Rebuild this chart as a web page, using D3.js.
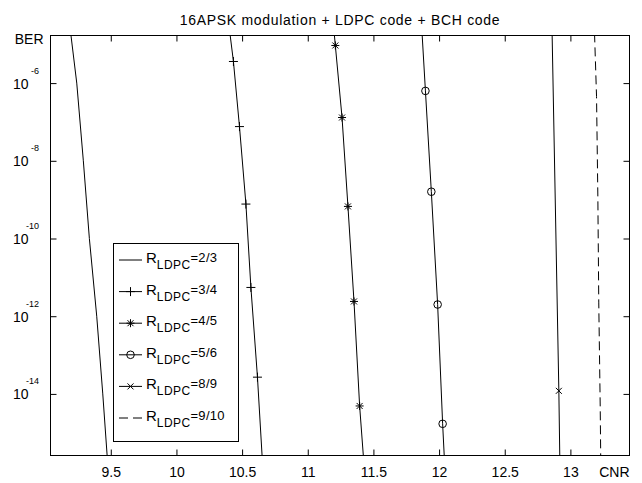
<!DOCTYPE html>
<html><head><meta charset="utf-8">
<script src="https://cdn.jsdelivr.net/npm/d3@7"></script>
<style>
body{margin:0;background:#fff}
svg{display:block}
text{font-family:"Liberation Sans",Arial,Helvetica,sans-serif;fill:#000}
</style>
</head><body>
<svg id="c" width="642" height="483"></svg>
<script>
// ---------- data ----------
const titleText = "16APSK modulation + LDPC code + BCH code";
const xLabel = "CNR";
const yLabel = "BER";
const xTicks = [9.5, 10, 10.5, 11, 11.5, 12, 12.5, 13];
const xTickLabels = ["9.5", "10", "10.5", "11", "11.5", "12", "12.5", "13"];
const yTicks = [1e-6, 1e-8, 1e-10, 1e-12, 1e-14];
const yTickExponents = ["-6", "-8", "-10", "-12", "-14"];
const xLimits = [9.041, 13.45];
const yLimits = [2.6e-16, 1.68e-5];

const seriesNames = ["2/3", "3/4", "4/5", "5/6", "8/9", "9/10"];
const cnr23 = [9.187, 9.241, 9.291, 9.337, 9.393, 9.439, 9.481];
const ber23 = [3.2e-5, 1e-6, 1e-8, 1e-10, 1e-12, 1e-14, 1e-16];
const cnr34 = [10.377, 10.434, 10.480, 10.529, 10.567, 10.617, 10.668];
const ber34 = [1.26e-4, 3.6e-6, 7.6e-8, 7.7e-10, 5.5e-12, 2.7e-14, 3.2e-17];
const cnr45 = [11.179, 11.210, 11.261, 11.306, 11.352, 11.395, 11.443];
const ber45 = [1.26e-4, 9.3e-6, 1.3e-7, 6.7e-10, 2.4e-12, 4.9e-15, 3.2e-17];
const cnr56 = [11.851, 11.896, 11.941, 11.989, 12.027, 12.066];
const ber56 = [2.5e-4, 6.3e-7, 1.6e-9, 2.0e-12, 1.7e-15, 4e-18];
const cnr89 = [12.851, 12.912, 12.925];
const ber89 = [1e-3, 1.2e-14, 1e-17];
const cnr910 = [13.177, 13.199, 13.209, 13.216, 13.227, 13.232];
const ber910 = [1e-4, 4.5e-7, 1.2e-9, 2.2e-12, 4.7e-15, 1e-16];

// ---------- layout / style ----------
const W = 642, H = 483;
const L = 50.5, R = 629.5, T = 35.5, B = 455.5;
const FONT = 14;
const series = [
  {name: seriesNames[0], cnr: cnr23, ber: ber23, marker: null, dash: null},
  {name: seriesNames[1], cnr: cnr34, ber: ber34, marker: "plus", dash: null},
  {name: seriesNames[2], cnr: cnr45, ber: ber45, marker: "star", dash: null},
  {name: seriesNames[3], cnr: cnr56, ber: ber56, marker: "circle", dash: null},
  {name: seriesNames[4], cnr: cnr89, ber: ber89, marker: "x", dash: null},
  {name: seriesNames[5], cnr: cnr910, ber: ber910, marker: null, dash: "9,5"}
];

const svg = d3.select("#c");
const x = d3.scaleLinear().domain(xLimits).range([L, R]);
const y = d3.scaleLog().domain(yLimits).range([B, T]);

// title
svg.append("text").attr("x", (L + R) / 2).attr("y", 25)
  .attr("text-anchor", "middle").attr("font-size", FONT)
  .attr("letter-spacing", 0.7).text(titleText);

// clip
svg.append("defs").append("clipPath").attr("id", "clip")
  .append("rect").attr("x", L).attr("y", T).attr("width", R - L).attr("height", B - T);

// axes (inward ticks)
const tk = 6;
const gB = svg.append("g").attr("transform", `translate(0,${B})`)
  .call(d3.axisBottom(x).tickValues(xTicks).tickSize(-tk).tickPadding(0)
    .tickFormat((d, i) => xTickLabels[i]));
gB.selectAll("text").attr("y", 21.5).attr("dy", null).attr("font-size", FONT);
const gT = svg.append("g").attr("transform", `translate(0,${T})`)
  .call(d3.axisTop(x).tickValues(xTicks).tickSize(-tk).tickFormat(""));
const gL = svg.append("g").attr("transform", `translate(${L},0)`)
  .call(d3.axisLeft(y).tickValues(yTicks).tickSize(-tk).tickFormat(""));
const gR = svg.append("g").attr("transform", `translate(${R},0)`)
  .call(d3.axisRight(y).tickValues(yTicks).tickSize(-tk).tickFormat(""));
[gB, gT, gL, gR].forEach(g => {
  g.select(".domain").remove();
  g.selectAll("line").attr("stroke", "#000");
  g.attr("font-family", null).attr("font-size", null);
});
gL.selectAll(".tick").each(function(d, i) {
  const t = d3.select(this);
  t.select("text").remove();
  t.append("text").attr("x", -22).attr("y", 5).attr("text-anchor", "end")
    .attr("font-size", FONT).attr("fill", "#000").text("10");
  t.append("text").attr("x", -11.5).attr("y", -10).attr("text-anchor", "end")
    .attr("font-size", 9).attr("fill", "#000").text(yTickExponents[i]);
});

// frame
svg.append("rect").attr("x", L).attr("y", T).attr("width", R - L).attr("height", B - T)
  .attr("fill", "none").attr("stroke", "#000").attr("stroke-width", 1);

// axis labels
svg.append("text").attr("x", 43.5).attr("y", 43.5).attr("text-anchor", "end")
  .attr("font-size", FONT).text(yLabel);
svg.append("text").attr("x", R).attr("y", 477).attr("text-anchor", "end")
  .attr("font-size", FONT).text(xLabel);

// markers
function markerPath(type, cx, cy) {
  const p = d3.path();
  if (type === "plus") {
    const s = 4.5;
    p.moveTo(cx - s, cy); p.lineTo(cx + s, cy);
    p.moveTo(cx, cy - s); p.lineTo(cx, cy + s);
  } else if (type === "star") {
    const s = 4, d = 3;
    p.moveTo(cx - s, cy); p.lineTo(cx + s, cy);
    p.moveTo(cx, cy - s); p.lineTo(cx, cy + s);
    p.moveTo(cx - d, cy - d); p.lineTo(cx + d, cy + d);
    p.moveTo(cx - d, cy + d); p.lineTo(cx + d, cy - d);
  } else if (type === "x") {
    const s = 3;
    p.moveTo(cx - s, cy - s); p.lineTo(cx + s, cy + s);
    p.moveTo(cx - s, cy + s); p.lineTo(cx + s, cy - s);
  } else if (type === "circle") {
    const r = 3.8;
    p.moveTo(cx + r, cy); p.arc(cx, cy, r, 0, 2 * Math.PI);
  }
  return p.toString();
}

const line = d3.line().x(d => x(d[0])).y(d => y(d[1]));
const plot = svg.append("g").attr("clip-path", "url(#clip)");
series.forEach(s => {
  const pts = s.cnr.map((c, i) => [c, s.ber[i]]);
  plot.append("path").datum(pts).attr("d", line)
    .attr("fill", "none").attr("stroke", "#000").attr("stroke-width", 1)
    .attr("stroke-dasharray", s.dash);
  if (s.marker) {
    plot.selectAll(null).data(pts).join("path")
      .attr("d", d => markerPath(s.marker, x(d[0]), y(d[1])))
      .attr("fill", "none").attr("stroke", "#000").attr("stroke-width", 1);
  }
});

// legend
const lg = svg.append("g");
lg.append("rect").attr("x", 113.5).attr("y", 243.5).attr("width", 125).attr("height", 198)
  .attr("fill", "#fff").attr("stroke", "#000");
series.forEach((s, i) => {
  const ry = 260 + i * 31.6;
  lg.append("line").attr("x1", 119).attr("x2", 142).attr("y1", ry).attr("y2", ry)
    .attr("stroke", "#000").attr("stroke-dasharray", s.dash);
  if (s.marker) lg.append("path").attr("d", markerPath(s.marker, 130.5, ry))
    .attr("fill", "none").attr("stroke", "#000");
  const t = lg.append("text").attr("x", 146).attr("y", ry + 3);
  t.append("tspan").attr("font-size", 15).text("R");
  t.append("tspan").attr("font-size", 12).attr("letter-spacing", 0.4).attr("dy", 6).text("LDPC");
  t.append("tspan").attr("font-size", 13).attr("letter-spacing", 0.3).attr("dy", -7).text("=" + s.name);
});
</script>
</body></html>
